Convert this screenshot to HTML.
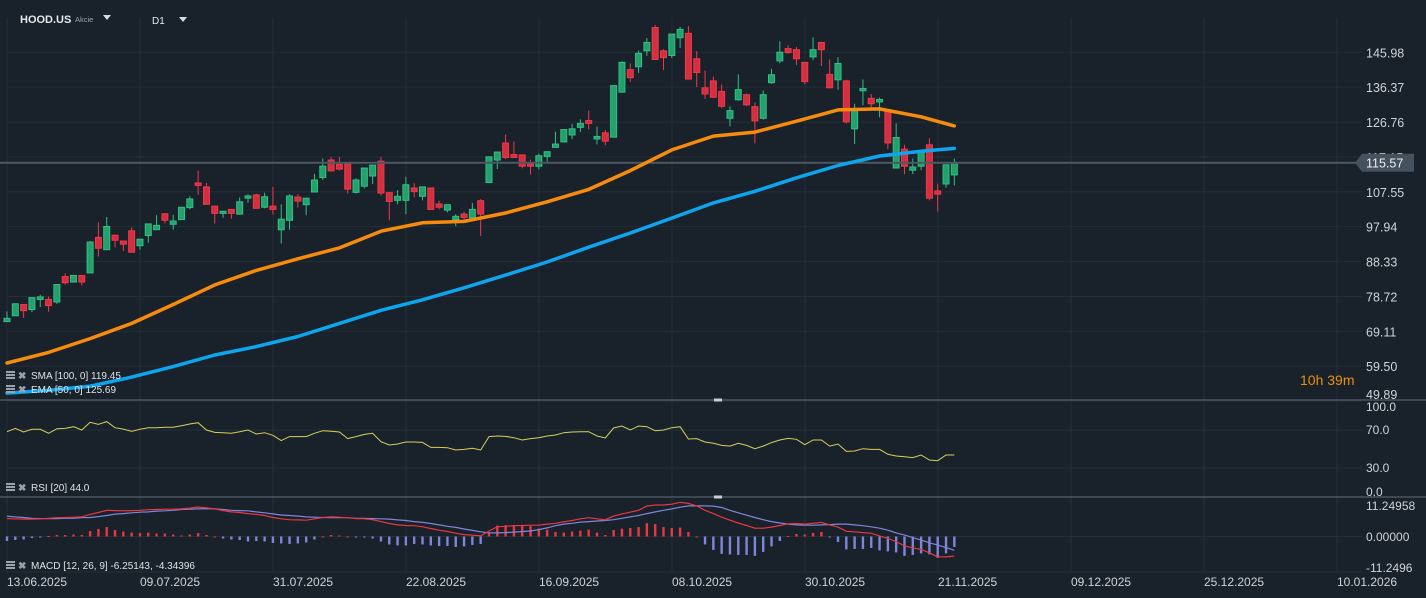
<!DOCTYPE html>
<html><head><meta charset="utf-8">
<style>
html,body{margin:0;padding:0;background:#19212a;width:1426px;height:598px;overflow:hidden}
svg{display:block;font-family:"Liberation Sans",sans-serif}
</style></head>
<body>
<svg id="chart" width="1426" height="598" viewBox="0 0 1426 598" xmlns="http://www.w3.org/2000/svg">
<rect x="0" y="0" width="1426" height="598" fill="#19212a"/>
<g id="grid"></g>
<g id="candles"></g>
<g id="lines"></g>
<g id="rsi"></g>
<g id="macd"></g>
<g id="axes"></g>
<g>
  <text x="20" y="23" fill="#e6e8ea" font-size="11" font-weight="bold">HOOD.US</text>
  <text x="75" y="22" fill="#9aa4ad" font-size="7.5">Akcie</text>
  <path d="M103 15 L111 15 L107 20 Z" fill="#d8dbde"/>
  <text x="152" y="24" fill="#e6e8ea" font-size="10">D1</text>
  <path d="M179 17 L187 17 L183 22 Z" fill="#d8dbde"/>
</g>
<text x="1300" y="385" fill="#e8900c" font-size="14">10h 39m</text>
</svg>
<script>
const openP=[71.8,73.4,76.5,75.1,77.9,77.9,77.2,84.2,82.7,84.5,85.2,95.0,91.6,95.6,94.0,96.8,92.7,95.5,97.1,101.5,98.6,99.9,103.2,110.0,108.9,103.6,101.6,102.7,101.4,105.8,106.7,103.3,103.6,97.1,99.7,106.1,104.0,107.5,111.5,116.3,115.1,115.2,107.4,109.1,111.9,116.0,107.3,105.2,105.2,108.6,106.3,108.6,104.2,102.5,99.9,101.4,100.4,105.1,110.1,116.3,121.0,117.8,117.7,115.2,114.6,117.3,119.8,121.3,123.2,125.3,127.2,122.1,123.8,122.6,135.0,141.2,142.0,146.4,152.8,146.4,145.1,150.0,151.2,144.2,136.2,138.1,135.2,127.8,132.9,134.3,131.0,127.8,137.6,143.6,147.0,146.7,143.2,144.7,148.7,139.9,138.4,138.1,124.9,135.4,133.3,132.3,129.9,114.1,119.3,113.5,114.6,120.5,107.8,109.7,112.2];
const highP=[74.6,76.8,76.5,78.4,79.2,78.7,82.0,85.1,84.5,84.5,94.0,99.1,100.6,95.6,94.0,97.7,94.5,98.7,101.1,101.7,101.2,103.3,106.3,113.4,110.0,103.6,102.2,102.7,106.0,106.9,107.0,107.3,108.9,104.1,106.9,106.9,105.8,112.5,116.7,117.2,117.2,115.2,111.3,114.1,114.9,117.2,107.5,108.0,111.7,109.9,108.9,108.6,105.1,104.0,101.4,102.1,104.5,105.5,117.2,118.5,123.3,121.4,117.9,116.4,118.1,118.6,124.1,124.7,126.3,127.5,129.9,125.5,124.6,136.8,143.5,142.9,146.5,149.9,153.5,146.8,151.0,153.0,153.2,146.3,141.0,139.3,137.1,131.1,139.9,134.6,132.2,135.5,141.5,149.0,147.9,147.4,143.2,150.1,148.7,144.0,144.6,138.4,131.8,138.5,134.5,133.5,129.9,126.4,120.5,116.7,118.4,122.3,109.8,115.0,116.7];
const lowP=[71.8,73.4,72.8,74.4,75.8,74.5,76.7,82.0,82.5,81.8,85.2,89.7,91.6,92.2,91.2,90.9,91.6,93.5,97.1,98.8,97.1,99.9,102.7,106.7,104.1,98.8,100.4,100.1,101.2,104.5,103.0,103.0,101.3,93.3,97.1,103.2,101.1,107.5,110.8,113.3,113.4,107.1,107.1,108.5,109.7,106.5,99.7,104.1,101.4,106.0,105.2,102.7,102.7,101.9,98.1,99.5,100.4,95.4,110.1,113.8,116.5,117.0,114.0,112.3,113.7,115.7,119.8,121.3,122.0,124.0,124.8,120.6,120.4,122.6,135.0,137.8,140.3,145.0,144.0,141.1,144.4,147.2,138.6,136.4,133.1,133.4,130.6,125.6,132.6,131.2,120.9,127.4,137.3,143.0,145.6,142.5,137.2,143.8,142.2,136.2,135.7,126.3,120.7,131.4,130.7,128.1,119.3,114.1,112.4,112.4,113.5,105.2,102.1,108.7,109.3];
const closeP=[72.7,76.7,74.8,78.4,78.6,76.2,82.0,82.5,84.5,82.7,93.7,92.0,98.0,94.2,93.1,90.9,94.5,98.7,98.3,99.7,99.5,103.3,105.6,109.3,104.1,101.6,102.2,101.6,104.8,106.4,103.0,106.2,102.7,100.0,106.4,105.0,105.8,110.8,114.6,113.3,113.8,108.3,110.8,114.1,114.9,107.2,104.9,106.3,109.5,107.6,108.9,102.7,103.3,104.0,100.8,100.5,102.7,101.4,117.2,118.5,117.0,117.0,114.6,114.6,117.5,118.6,120.7,124.7,124.9,126.4,126.4,122.8,121.5,136.8,143.2,139.0,145.7,148.7,144.0,144.5,151.0,152.3,138.6,140.4,134.5,133.6,131.1,129.9,135.7,131.5,127.1,134.3,139.8,146.0,145.9,144.2,137.9,146.7,146.7,136.2,142.9,126.8,130.4,136.0,131.8,133.0,121.0,122.5,114.6,114.4,118.4,105.8,106.9,115.0,115.6];
const maIdx=[0,5,10,15,20,25,30,35,40,45,50,55,60,65,70,75,80,85,90,95,100,105,110,114];
const ema50=[60.4,63.3,67.1,71.3,76.5,81.9,85.9,89.1,92.1,96.7,99.0,99.4,101.7,104.8,108.2,113.4,119.1,122.9,124.0,127.0,130.1,130.4,128.2,125.7];
const sma100=[52.1,52.9,54.0,56.5,59.4,62.6,64.9,67.7,71.3,74.9,77.8,81.1,84.6,88.2,92.3,96.2,100.3,104.5,107.7,111.4,114.8,117.4,118.7,119.5];
const rsiVals=[68.2,71.7,67.9,70.7,70.7,66.5,71.4,71.7,73.5,70.0,78.1,76.0,78.8,72.4,71.0,68.6,70.7,72.4,72.4,72.8,72.8,74.5,76.3,77.7,70.0,67.5,67.2,66.5,68.2,70.0,65.8,67.2,64.4,58.8,63.0,63.0,63.0,66.5,69.3,68.6,67.9,60.9,63.0,65.4,66.5,57.7,54.2,55.3,57.4,57.4,57.0,51.7,51.7,51.4,48.9,49.6,50.7,48.9,63.0,63.7,63.3,61.9,59.5,60.9,61.9,63.7,64.7,67.2,67.9,68.2,68.2,63.7,61.6,72.1,74.2,70.0,74.2,73.5,69.3,70.0,72.4,73.5,60.5,60.9,57.4,56.0,53.8,53.1,56.0,53.8,50.3,53.1,56.7,59.5,61.2,60.2,54.5,59.5,59.5,53.1,55.3,47.5,47.9,50.3,49.6,49.6,44.4,42.6,41.9,40.9,43.7,38.4,37.7,43.7,43.7];
const macdVals=[6.5,6.4,6.3,6.3,6.4,6.6,6.8,6.9,7.0,7.1,8.0,8.7,9.5,9.4,9.3,9.4,9.5,9.7,9.8,9.9,9.9,10.0,10.3,10.7,10.4,10.0,9.4,8.9,8.7,8.3,8.0,7.6,6.9,6.4,6.1,6.0,5.9,6.4,6.9,7.1,7.0,6.8,6.5,6.4,6.1,5.4,4.7,4.2,4.0,3.9,3.5,2.9,2.3,1.8,1.2,0.7,0.5,0.2,2.0,3.5,3.7,3.9,4.0,4.1,4.1,4.5,4.8,5.3,5.8,6.4,6.8,6.4,6.1,7.4,8.2,8.8,9.5,11.0,11.4,11.4,11.7,12.4,12.0,11.1,9.5,8.3,7.0,5.9,4.9,4.0,3.0,3.0,3.4,4.0,4.6,4.7,4.5,4.8,5.1,4.2,3.4,1.9,1.7,1.4,1.2,0.2,-0.7,-1.9,-3.4,-4.1,-4.7,-5.9,-7.4,-7.4,-7.1];
const signalVals=[7.4,7.1,6.9,6.6,6.5,6.5,6.5,6.6,6.6,6.8,6.9,7.2,7.6,8.1,8.3,8.6,8.8,8.9,9.2,9.3,9.5,9.8,9.9,10.0,10.1,10.0,9.8,9.5,9.4,9.3,8.9,8.6,8.2,7.8,7.6,7.4,7.1,7.0,6.9,6.8,6.8,6.8,6.6,6.6,6.5,6.4,6.3,6.0,5.8,5.4,5.1,4.7,4.2,3.7,3.3,2.7,2.2,1.7,1.3,1.3,1.4,1.6,1.8,2.0,2.5,3.1,3.9,4.5,4.8,5.2,5.4,5.6,5.8,6.1,6.6,7.1,7.6,8.3,8.9,9.5,10.0,10.6,11.1,11.1,11.1,11.0,10.5,9.5,8.6,7.7,6.9,6.1,5.4,4.9,4.5,4.2,4.1,4.1,4.2,4.3,4.5,4.5,4.2,3.9,3.5,3.0,2.3,1.3,0.5,-0.4,-1.3,-2.3,-3.1,-4.0,-5.0];
const priceTicks=["145.98","136.37","126.76","117.15","107.55","97.94","88.33","78.72","69.11","59.50","49.89"];
const rsiTicks=["100.0","70.0","30.0","0.0"];
const macdTicks=["11.24958","0.00000","-11.2496"];
const dateLabels=["13.06.2025","09.07.2025","31.07.2025","22.08.2025","16.09.2025","08.10.2025","30.10.2025","21.11.2025","09.12.2025","25.12.2025","10.01.2026"];
const lastPrice=115.57;

const NS="http://www.w3.org/2000/svg";
function mk(tag,attrs,parent){const e=document.createElementNS(NS,tag);for(const k in attrs)e.setAttribute(k,attrs[k]);parent.appendChild(e);return e;}
const xC=i=>7+8.31*i;
const yP=p=>52.3+(145.98-p)*3.63;
const yR=r=>496.5-r*0.95;
const yM=m=>536.5-m*2.76;
const HIST_SCALE=1.8;
const RIGHT=1362;

const grid=document.getElementById('grid');
priceTicks.forEach((t,k)=>{
  const y=yP(parseFloat(t));
  const l=mk('line',{x1:7,x2:RIGHT,y1:y,y2:y,stroke:'#242e37','stroke-width':1},grid);
  
  
});
dateLabels.forEach((d,k)=>{
  const x=7+133*k;
  const l=mk('line',{x1:x,x2:x,y1:18,y2:572,stroke:'#242e37','stroke-width':1},grid);
  
  
});
[70,30].forEach(v=>{const l=mk('line',{x1:7,x2:RIGHT,y1:yR(v),y2:yR(v),stroke:'#242e37'},grid);
  
  });
[0].forEach(v=>{const l=mk('line',{x1:7,x2:RIGHT,y1:yM(v),y2:yM(v),stroke:'#242e37'},grid);
  
  });
const bl=mk('line',{x1:7,x2:RIGHT,y1:572,y2:572,stroke:'#242e37'},grid);



const cg=document.getElementById('candles');
openP.forEach((o,i)=>{
  const c=closeP[i],h=highP[i],l=lowP[i],x=xC(i);
  const up=c>=o;
  const col=up?'#2fc184':'#f0384c', fill=up?'#23a06c':'#d3303f';
  const g=mk('g',{},cg);
  
  
  mk('line',{x1:x,x2:x,y1:yP(h),y2:yP(l),stroke:col,'stroke-width':1},g);
  const top=yP(Math.max(o,c)),bot=yP(Math.min(o,c));
  mk('rect',{x:x-3,y:top,width:6,height:Math.max(1.5,bot-top),fill:fill,stroke:col,'stroke-width':1},g);
});

const pl=mk('line',{x1:0,x2:1356,y1:yP(lastPrice),y2:yP(lastPrice),stroke:'#4a5963','stroke-width':2},cg);



const lg=document.getElementById('lines');
function poly(vals,color,name){
  const pts=vals.map((v,k)=>xC(maIdx[k]).toFixed(1)+','+yP(v).toFixed(1)).join(' ');
  const p=mk('polyline',{points:pts,fill:'none',stroke:color,'stroke-width':3.5,'stroke-linejoin':'round','stroke-linecap':'round'},lg);
  
  
}
poly(sma100,'#0ea5ee','sma-100-line');
poly(ema50,'#f68b0e','ema-50-line');

const ax=document.getElementById('axes');
[400,497].forEach(y=>{
  const s=mk('line',{x1:0,x2:1426,y1:y,y2:y,stroke:'#4b5661','stroke-width':1.5},ax);
  
  
  const h=mk('rect',{x:714,y:y-1.5,width:8,height:3,fill:'#c9cdd1'},ax);
  
  
});

const rg=document.getElementById('rsi');
const rp=mk('polyline',{points:rsiVals.map((v,i)=>xC(i).toFixed(1)+','+yR(v).toFixed(1)).join(' '),fill:'none',stroke:'#d9cf5c','stroke-width':1},rg);



const mg=document.getElementById('macd');
macdVals.forEach((m,i)=>{
  const h=(m-signalVals[i])*HIST_SCALE;
  const y0=yM(0),y1=yM(h);
  const b=mk('rect',{x:xC(i)-1.2,y:Math.min(y0,y1),width:2.4,height:Math.max(1,Math.abs(y1-y0)),fill:h>=0?'#e8373f':'#7d86dc'},mg);
  
  
});
const sp=mk('polyline',{points:signalVals.map((v,i)=>xC(i).toFixed(1)+','+yM(v).toFixed(1)).join(' '),fill:'none',stroke:'#7d86dc','stroke-width':1.2},mg);


const mp=mk('polyline',{points:macdVals.map((v,i)=>xC(i).toFixed(1)+','+yM(v).toFixed(1)).join(' '),fill:'none',stroke:'#e8373f','stroke-width':1.2},mg);



priceTicks.forEach(t=>{
  let y=yP(parseFloat(t))+5;
  if(t==="49.89") y=399;
  const tx=mk('text',{x:1366,y:y,fill:'#cfd3d7','font-size':12.5},ax);
  tx.textContent=t;
  
  
});
const yl=yP(lastPrice);
const tag=mk('path',{d:`M1355 ${yl} L1362 ${yl-9} L1414 ${yl-9} L1414 ${yl+9} L1362 ${yl+9} Z`,fill:'#44525d'},ax);


const tt=mk('text',{x:1366,y:yl+5,fill:'#eef0f2','font-size':12.5},ax);
tt.textContent=lastPrice.toFixed(2);



rsiTicks.forEach(t=>{
  const v=parseFloat(t);
  let y=yR(v)+4; if(v===100)y=411; if(v===0)y=496;
  const tx=mk('text',{x:1366,y:y,fill:'#cfd3d7','font-size':12},ax);
  tx.textContent=t;
  
  
});
const macdY=[510,541,572];
macdTicks.forEach((t,k)=>{
  const tx=mk('text',{x:1366,y:macdY[k],fill:'#cfd3d7','font-size':12},ax);
  tx.textContent=t;
  
  
});
dateLabels.forEach((d,k)=>{
  const tx=mk('text',{x:7+133*k,y:586,fill:'#cfd3d7','font-size':12},ax);
  tx.textContent=d;
  
  
});

function legend(y,text,name){
  const g=mk('g',{},ax);
  
  
  mk('rect',{x:6,y:y-8,width:9,height:2,fill:'#9aa3ab'},g);
  mk('rect',{x:6,y:y-5,width:9,height:2,fill:'#9aa3ab'},g);
  mk('rect',{x:6,y:y-2,width:9,height:2,fill:'#9aa3ab'},g);
  const x=mk('text',{x:18,y:y,fill:'#9aa3ab','font-size':10,'font-weight':'bold'},g);
  x.textContent='✖';
  const t=mk('text',{x:31,y:y,fill:'#dfe2e5','font-size':10},g);
  t.textContent=text;
}
legend(379,'SMA [100,  0] 119.45','sma-legend');
legend(393,'EMA [50,  0] 125.69','ema-legend');
legend(491,'RSI [20]  44.0','rsi-legend');
legend(569,'MACD [12,  26,  9] -6.25143,  -4.34396','macd-legend');
</script>
</body></html>
